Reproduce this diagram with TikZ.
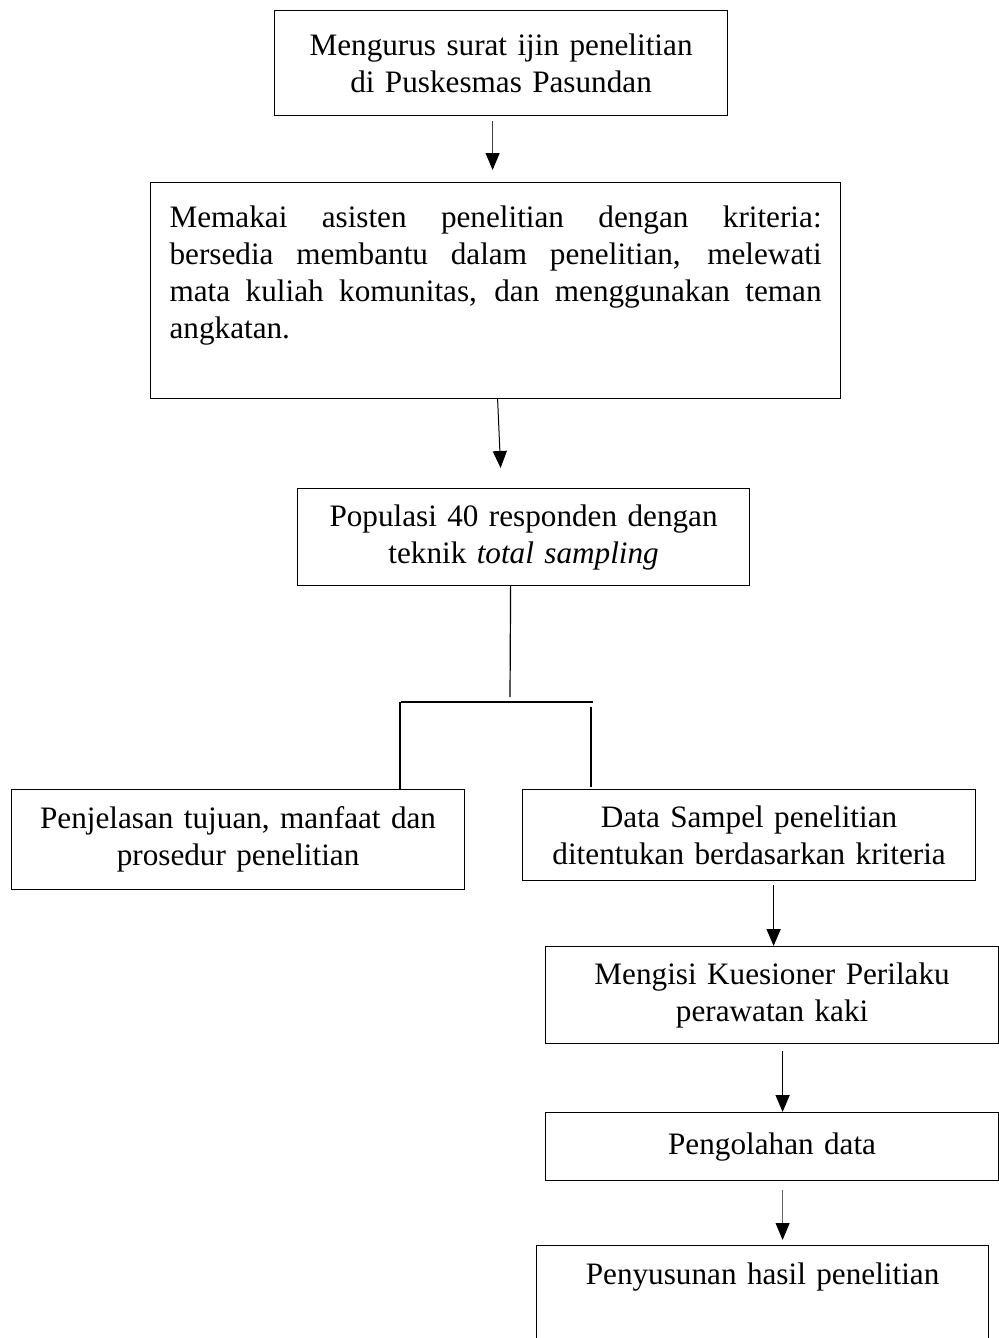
\documentclass[tikz,border=0pt]{standalone}
\usepackage{fontspec}
\setmainfont{Liberation Serif}
\usetikzlibrary{arrows.meta}
\tikzset{
  kotak/.style={draw, line width=0.6pt, anchor=north west, inner sep=0pt, align=center,
    font=\fontsize{15.6}{18.5}\selectfont},
  panah/.style={-{Triangle[width=7pt,length=8.5pt,color=black]}, line width=0.8pt},
  garis/.style={line width=0.6pt}
}

\begin{document}
\begin{tikzpicture}[x=0.5pt,y=-0.5pt]
        \useasboundingbox (0,0) rectangle (998,1338);

        \node[kotak, minimum width=226.5pt, minimum height=52.5pt, text width=226.5pt] (izin) at (274,10)
            {Mengurus surat ijin penelitian\\ di Puskesmas Pasundan};
        \node[kotak, minimum width=345pt, minimum height=108pt, text width=326pt, inner xsep=9.5pt, align=justify] (asisten) at (150,182)
            {Memakai asisten penelitian dengan kriteria:\linebreak bersedia membantu dalam penelitian, melewati\linebreak mata kuliah komunitas, dan menggunakan teman\linebreak angkatan.\\ \mbox{}};
        \node[kotak, minimum width=226pt, minimum height=48.5pt, text width=226pt] (populasi) at (297,488)
            {Populasi 40 responden dengan\\ teknik \textit{total sampling}};
        \node[kotak, minimum width=226.5pt, minimum height=50pt, text width=226.5pt] (penjelasan) at (11,789)
            {Penjelasan tujuan, manfaat dan\\ prosedur penelitian};
        \node[kotak, minimum width=226.5pt, minimum height=45.5pt, text width=226.5pt] (sampel) at (522,789)
            {Data Sampel penelitian\\ ditentukan berdasarkan kriteria};
        \node[kotak, minimum width=226.5pt, minimum height=48.5pt, text width=226.5pt] (kuesioner) at (545,946)
            {Mengisi Kuesioner Perilaku\\ perawatan kaki};
        \node[kotak, minimum width=226.5pt, minimum height=34pt, text width=226.5pt] (olah) at (545,1112)
            {Pengolahan data};
        \node[kotak, minimum width=226pt, minimum height=47pt, text width=226pt] (susun) at (536,1245)
            {Penyusunan hasil penelitian\\ \mbox{}};

        % cabang ke dua kotak
        \coordinate (cabang) at (510,697);
        \coordinate (barkiri) at (401,702);
        \coordinate (barkanan) at (593,702);

        \draw[panah, line width=0.5pt, black!75] ([xshift=-4.25pt,yshift=-2.5pt]izin.south) -- ([xshift=-4.25pt,yshift=6pt]izin.south |- asisten.north);
        \draw[panah, line width=0.5pt] ([xshift=1pt]asisten.south) -- ([xshift=-11.5pt,yshift=10pt]populasi.north);
        \draw[garis] ([xshift=-6.5pt]populasi.south) -- (cabang);
        \draw[garis] (barkiri) -- (barkanan);
        \draw[garis] ([xshift=-0.5pt]barkiri) -- ([xshift=-0.5pt]barkiri |- penjelasan.north);
        \draw[garis] ([xshift=-1pt,yshift=-2.5pt]barkanan) -- ([xshift=-1pt,yshift=1pt]barkanan |- sampel.north);
        \draw[panah] ([xshift=0.75pt,yshift=-2pt]kuesioner.north |- sampel.south) -- ([xshift=0.75pt]kuesioner.north);
        \draw[panah] ([xshift=5.25pt,yshift=-3.5pt]kuesioner.south) -- ([xshift=5.25pt]olah.north);
        \draw[panah, line width=0.5pt, black!60] ([xshift=5.25pt,yshift=-4.5pt]olah.south) -- ([xshift=10pt,yshift=2.5pt]susun.north);
\end{tikzpicture}
\end{document}
